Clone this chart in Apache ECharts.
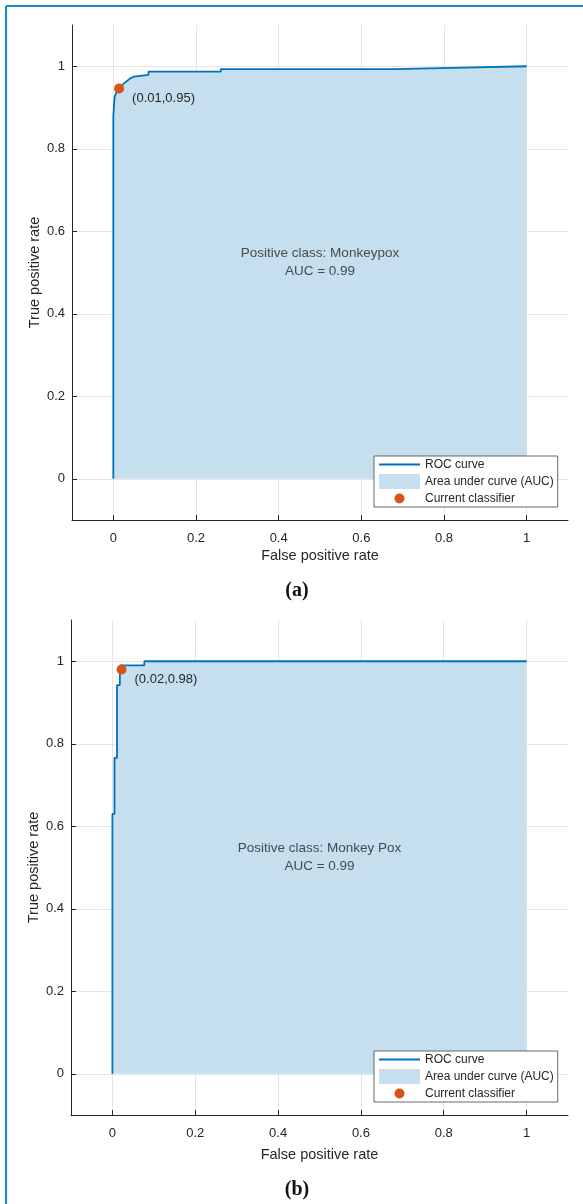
<!DOCTYPE html>
<html>
<head>
<meta charset="utf-8">
<script src="https://cdn.jsdelivr.net/npm/echarts@6/dist/echarts.min.js"></script>
<style>
  html, body { margin: 0; padding: 0; background: #fff; }
  #chart { width: 583px; height: 1204px; }
</style>
</head>
<body>
<div id="chart"></div>
<script>
// panel (a): positive class Monkeypox
var fprA = [0, 0, 0.003, 0.003, 0.008, 0.014, 0.02, 0.03, 0.04, 0.05, 0.085, 0.085, 0.26, 0.26, 0.68, 0.68, 0.82, 0.82, 1];
var tprA = [0, 0.88, 0.88, 0.925, 0.938, 0.946, 0.953, 0.962, 0.97, 0.975, 0.979, 0.987, 0.987, 0.993, 0.993, 0.996, 0.996, 1, 1];
var pointA = [0.014, 0.946];
var classA = 'Monkeypox';
var aucA = 0.99;

// panel (b): positive class Monkey Pox
var fprB = [0, 0, 0.005, 0.005, 0.011, 0.011, 0.018, 0.018, 0.077, 0.077, 1];
var tprB = [0, 0.63, 0.63, 0.766, 0.766, 0.942, 0.942, 0.99, 0.99, 1, 1];
var pointB = [0.022, 0.98];
var classB = 'Monkey Pox';
var aucB = 0.99;

var tickValues = [0, 0.2, 0.4, 0.6, 0.8, 1];
var panelLabels = ['(a)', '(b)'];

var font = '"Liberation Sans", Arial, sans-serif';
var textColor = '#262626';
var lineBlue = '#0072BD';
var areaBlue = '#c5dfee';
var dotRed = '#D95319';

// pixel layout of the two panels
var grids = [
  { left: 72, top: 25, width: 496, height: 495 },
  { left: 71, top: 620, width: 497, height: 495 }
];
var xNameGap = [28, 32];
var legendTops = [456, 1051];
var captionY = [591, 1190];

function pairs(xs, ys) {
  return xs.map(function (x, i) { return [x, ys[i]]; });
}

function axis(i, isX) {
  return {
    type: 'value',
    gridIndex: i,
    min: -0.1,
    max: 1.1,
    name: isX ? 'False positive rate' : 'True positive rate',
    nameLocation: 'middle',
    nameGap: isX ? xNameGap[i] : 30,
    nameMoveOverlap: isX,
    nameTextStyle: { fontSize: 14.5, color: textColor, fontFamily: font },
    axisLine: { show: true, onZero: false, lineStyle: { color: textColor, width: 1 } },
    axisTick: { show: true, inside: true, length: 5, customValues: tickValues, lineStyle: { color: textColor } },
    axisLabel: { customValues: tickValues, fontSize: 13, color: textColor, fontFamily: font, margin: isX ? 12 : 7 },
    splitLine: { show: true, lineStyle: { color: '#e5e5e5', width: 1 } }
  };
}

function panelSeries(i, fpr, tpr, point, cls, auc) {
  var data = pairs(fpr, tpr);
  return [
    {
      name: 'Area under curve (AUC)', type: 'line', xAxisIndex: i, yAxisIndex: i,
      data: data, symbol: 'none', silent: true, z: 1,
      itemStyle: { color: areaBlue },
      lineStyle: { width: 0, opacity: 0 },
      areaStyle: { color: areaBlue, opacity: 1 }
    },
    {
      name: 'ROC curve', type: 'line', xAxisIndex: i, yAxisIndex: i,
      data: data, symbol: 'none', silent: true, z: 2,
      itemStyle: { color: lineBlue },
      lineStyle: { color: lineBlue, width: 1.8 }
    },
    {
      name: 'Current classifier', type: 'scatter', xAxisIndex: i, yAxisIndex: i,
      data: [point], symbolSize: 10, silent: true, z: 3,
      itemStyle: { color: dotRed, opacity: 1 },
      label: {
        show: true,
        formatter: '(' + point[0].toFixed(2) + ',' + point[1].toFixed(2) + ')',
        position: [18, 15], verticalAlign: 'middle',
        fontSize: 13, color: textColor, fontFamily: font
      }
    },
    {
      name: 'note', type: 'scatter', xAxisIndex: i, yAxisIndex: i,
      data: [[0.5, 0.525]], symbolSize: 0, silent: true, z: 3,
      label: {
        show: true, position: 'inside',
        formatter: 'Positive class: ' + cls + '\nAUC = ' + auc.toFixed(2),
        align: 'center', verticalAlign: 'middle', lineHeight: 18,
        fontSize: 13.5, color: textColor, fontFamily: font
      }
    }
  ];
}

var lineIcon = 'path://M0,0M41,15M0,6.5L41,6.5L41,8.5L0,8.5Z';
var dotIcon = 'path://M0,0M41,15M15.5,7.5A5,5 0 1,1 25.5,7.5A5,5 0 1,1 15.5,7.5Z';

function legend(i) {
  return {
    orient: 'vertical',
    left: 374,
    top: legendTops[i],
    itemWidth: 41,
    itemHeight: 15,
    itemGap: 2,
    padding: [1, 4, 1, 5],
    borderColor: '#444',
    borderWidth: 0.8,
    borderRadius: 0,
    backgroundColor: '#fff',
    selectedMode: false,
    textStyle: { fontSize: 12, color: textColor, fontFamily: font },
    data: [
      { name: 'ROC curve', icon: lineIcon, itemStyle: { color: lineBlue, borderWidth: 0, opacity: 1 } },
      { name: 'Area under curve (AUC)', icon: 'rect', itemStyle: { color: areaBlue, borderWidth: 0, opacity: 1 } },
      { name: 'Current classifier', icon: dotIcon, itemStyle: { color: dotRed, borderWidth: 0, opacity: 1 } }
    ]
  };
}

var myChart = echarts.init(document.getElementById('chart'));
var option = {
  animation: false,
  backgroundColor: '#fff',
  grid: grids,
  xAxis: [axis(0, true), axis(1, true)],
  yAxis: [axis(0, false), axis(1, false)],
  legend: [legend(0), legend(1)],
  series: panelSeries(0, fprA, tprA, pointA, classA, aucA)
    .concat(panelSeries(1, fprB, tprB, pointB, classB, aucB)),
  graphic: [
    { type: 'line', shape: { x1: 6, y1: 6, x2: 583, y2: 6 }, style: { stroke: '#1e8bc9', lineWidth: 2.2 } },
    { type: 'line', shape: { x1: 6, y1: 6, x2: 6, y2: 1204 }, style: { stroke: '#1e8bc9', lineWidth: 2.2 } },
    { type: 'text', x: 297, y: captionY[0], style: { text: panelLabels[0], align: 'center', verticalAlign: 'middle', font: 'bold 20px "Liberation Serif", serif', fill: '#111' } },
    { type: 'text', x: 297, y: captionY[1], style: { text: panelLabels[1], align: 'center', verticalAlign: 'middle', font: 'bold 20px "Liberation Serif", serif', fill: '#111' } }
  ]
};
myChart.setOption(option);
window.addEventListener('resize', function () {
  myChart.resize();
});
</script>
</body>
</html>
